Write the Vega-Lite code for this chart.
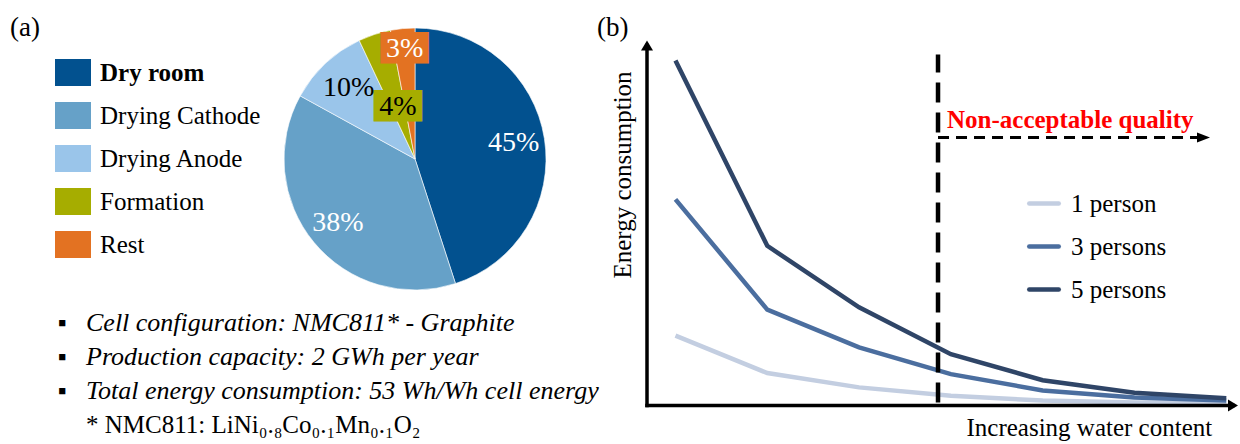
{
  "$schema": "https://vega.github.io/schema/vega-lite/v6.json",
  "background": "white",
  "padding": {"left": 10, "top": 13, "right": 0, "bottom": 0},
  "bounds": "flush",
  "spacing": 101,
  "config": {"view": {"stroke": null}, "font": "Liberation Serif"},
  "resolve": {"scale": {"color": "independent"}, "legend": {"color": "independent"}},
  "hconcat": [
    {
      "width": 128,
      "height": 418,
      "title": {"text": "(a)", "anchor": "start", "frame": "group", "fontSize": 27, "fontWeight": "normal", "font": "Liberation Serif", "color": "black", "dx": -45, "dy": 34.5, "offset": 0, "baseline": "alphabetic"},
      "data": {"values": [
        {"line": 1, "kind": "bullet", "text": "Cell configuration: NMC811* - Graphite"},
        {"line": 2, "kind": "bullet", "text": "Production capacity: 2 GWh per year"},
        {"line": 3, "kind": "bullet", "text": "Total energy consumption: 53 Wh/Wh cell energy"},
        {"line": 4, "kind": "note", "text": "* NMC811: LiNi₀.₈Co₀.₁Mn₀.₁O₂"}
      ]},
      "encoding": {"y": {"field": "line", "type": "ordinal", "scale": {"type": "point", "range": [302.5, 404.5], "padding": 0}, "axis": null}},
      "layer": [
        {"transform": [{"filter": "datum.kind === 'bullet'"}], "mark": {"type": "text", "text": "▪", "align": "left", "baseline": "alphabetic", "dx": -61, "fontSize": 25, "fill": "black"}},
        {"transform": [{"filter": "datum.kind === 'bullet'"}], "mark": {"type": "text", "align": "left", "baseline": "alphabetic", "dx": -33, "fontSize": 26, "fontStyle": "italic", "fill": "black"}, "encoding": {"text": {"field": "text"}}},
        {"transform": [{"filter": "datum.kind === 'note'"}], "mark": {"type": "text", "align": "left", "baseline": "alphabetic", "dx": -33, "fontSize": 25, "fill": "black"}, "encoding": {"text": {"field": "text"}}}
      ]
    },
    {
      "width": 262,
      "height": 262,
      "data": {"values": [
        {"category": "Dry room", "share": 45, "label": "45%", "k": 1},
        {"category": "Drying Cathode", "share": 38, "label": "38%", "k": 2},
        {"category": "Drying Anode", "share": 10, "label": "10%", "k": 3},
        {"category": "Formation", "share": 4, "label": "4%", "k": 4},
        {"category": "Rest", "share": 3, "label": "3%", "k": 5}
      ]},
      "encoding": {
        "theta": {"field": "share", "type": "quantitative", "stack": true},
        "order": {"field": "k", "type": "quantitative"},
        "detail": {"field": "category"}
      },
      "layer": [
        {
          "mark": {"type": "arc", "stroke": "white", "strokeWidth": 0.6},
          "encoding": {
            "color": {
              "field": "category", "type": "nominal",
              "scale": {"domain": ["Dry room", "Drying Cathode", "Drying Anode", "Formation", "Rest"], "range": ["#02518F", "#66A1C8", "#9AC5EA", "#A6AD00", "#E37222"]},
              "legend": {
                "orient": "none", "legendX": -229, "legendY": 26.5, "title": null,
                "symbolType": "M-1,-0.75H1V0.75H-1Z", "symbolSize": 1296, "symbolStrokeWidth": 0, "symbolOpacity": 1,
                "labelFontSize": 25, "labelFont": "Liberation Serif", "labelColor": "black", "labelOffset": 9, "labelLimit": 400,
                "labelFontWeight": {"expr": "datum.value === 'Dry room' ? 'bold' : 'normal'"},
                "rowPadding": 11, "padding": 0
              }
            }
          }
        },
        {"mark": {"type": "text", "radius": 55, "font": "DejaVu Sans Mono", "fontSize": 26.5, "fill": "#A6AD00", "baseline": "middle", "align": "center"},
         "encoding": {"text": {"condition": {"test": "datum.category === 'Formation'", "value": "███"}, "value": ""}}},
        {"mark": {"type": "text", "radius": 110, "font": "DejaVu Sans Mono", "fontSize": 26.5, "fill": "#E37222", "baseline": "middle", "align": "center"},
         "encoding": {"text": {"condition": {"test": "datum.category === 'Rest'", "value": "███"}, "value": ""}}},
        {"mark": {"type": "text", "radius": 100, "fontSize": 28, "fill": "white", "baseline": "middle", "align": "center"},
         "encoding": {"text": {"condition": {"test": "datum.share >= 38", "field": "label"}, "value": ""}}},
        {"mark": {"type": "text", "radius": 97, "fontSize": 28, "fill": "black", "baseline": "middle", "align": "center"},
         "encoding": {"text": {"condition": {"test": "datum.category === 'Drying Anode'", "field": "label"}, "value": ""}}},
        {"mark": {"type": "text", "radius": 55, "fontSize": 28, "fill": "black", "baseline": "middle", "align": "center"},
         "encoding": {"text": {"condition": {"test": "datum.category === 'Formation'", "field": "label"}, "value": ""}}},
        {"mark": {"type": "text", "radius": 110, "fontSize": 28, "fill": "white", "baseline": "middle", "align": "center"},
         "encoding": {"text": {"condition": {"test": "datum.category === 'Rest'", "field": "label"}, "value": ""}}}
      ]
    },
    {
      "width": 588,
      "height": 377.5,
      "title": {"text": "(b)", "anchor": "start", "frame": "group", "fontSize": 27, "fontWeight": "normal", "font": "Liberation Serif", "color": "black", "dx": -50, "dy": 34.5, "offset": 0, "baseline": "alphabetic"},
      "layer": [
        {
          "data": {"values": [
            {"persons": "1 person", "w": 1, "energy": 18.5},
            {"persons": "1 person", "w": 2, "energy": 8.6},
            {"persons": "1 person", "w": 3, "energy": 4.8},
            {"persons": "1 person", "w": 4, "energy": 2.6},
            {"persons": "1 person", "w": 5, "energy": 1.3},
            {"persons": "1 person", "w": 6, "energy": 0.8},
            {"persons": "1 person", "w": 7, "energy": 0.6},
            {"persons": "3 persons", "w": 1, "energy": 54.6},
            {"persons": "3 persons", "w": 2, "energy": 25.4},
            {"persons": "3 persons", "w": 3, "energy": 15.4},
            {"persons": "3 persons", "w": 4, "energy": 8.3},
            {"persons": "3 persons", "w": 5, "energy": 4.0},
            {"persons": "3 persons", "w": 6, "energy": 2.1},
            {"persons": "3 persons", "w": 7, "energy": 1.3},
            {"persons": "5 persons", "w": 1, "energy": 91.4},
            {"persons": "5 persons", "w": 2, "energy": 42.3},
            {"persons": "5 persons", "w": 3, "energy": 26.0},
            {"persons": "5 persons", "w": 4, "energy": 13.6},
            {"persons": "5 persons", "w": 5, "energy": 6.7},
            {"persons": "5 persons", "w": 6, "energy": 3.4},
            {"persons": "5 persons", "w": 7, "energy": 1.9}
          ]},
          "mark": {"type": "line", "strokeWidth": 4.5},
          "encoding": {
            "x": {"field": "w", "type": "quantitative", "scale": {"domain": [0.69, 7.095], "nice": false, "zero": false},
                  "axis": {"title": "Increasing water content", "domain": false, "ticks": false, "labels": false, "grid": false,
                           "titleFontSize": 25, "titleFontWeight": "normal", "titleColor": "black", "titleFont": "Liberation Serif",
                           "titleX": 564.7, "titleY": 30, "titleAlign": "right", "titleBaseline": "alphabetic"}},
            "y": {"field": "energy", "type": "quantitative", "scale": {"domain": [0, 100], "nice": false},
                  "axis": {"title": "Energy consumption", "domain": false, "ticks": false, "labels": false, "grid": false,
                           "titleFontSize": 25, "titleFontWeight": "normal", "titleColor": "black", "titleFont": "Liberation Serif",
                           "titleX": -25, "titleY": 146.5, "titleAlign": "center", "titleBaseline": "middle"}},
            "color": {"field": "persons", "type": "nominal",
                      "scale": {"domain": ["1 person", "3 persons", "5 persons"], "range": ["#C3CEE1", "#4B6E9F", "#2F4567"]},
                      "legend": {"orient": "none", "legendX": 380, "legendY": 158.5, "title": null,
                                 "symbolType": "stroke", "symbolSize": 870, "symbolStrokeWidth": 4.5,
                                 "labelFontSize": 25, "labelFont": "Liberation Serif", "labelColor": "black", "labelOffset": 10,
                                 "rowPadding": 13, "padding": 0,
                                 "encode": {"symbols": {"update": {"strokeCap": {"value": "round"}}}}}}
          }
        },
        {"data": {"values": [{}]}, "mark": {"type": "rule", "strokeWidth": 3.5, "color": "black", "strokeCap": "square"},
         "encoding": {"x": {"datum": 0.69}, "y": {"datum": 0}, "y2": {"datum": 95.36}}},
        {"data": {"values": [{}]}, "mark": {"type": "rule", "strokeWidth": 3.5, "color": "black", "strokeCap": "square"},
         "encoding": {"x": {"datum": 0.69}, "x2": {"datum": 7.073}, "y": {"datum": 0}}},
        {"data": {"values": [{}]}, "mark": {"type": "rule", "strokeWidth": 4.5, "color": "black", "strokeDash": [20, 10]},
         "encoding": {"x": {"datum": 3.86}, "y": {"datum": 0.8}, "y2": {"datum": 93}}},
        {"data": {"values": [{}]}, "mark": {"type": "rule", "strokeWidth": 3, "color": "black", "strokeDash": [11, 7]},
         "encoding": {"x": {"datum": 3.86}, "x2": {"datum": 6.70}, "y": {"datum": 71}}},
        {"data": {"values": [{}]}, "mark": {"type": "point", "shape": "M0,-1L1.2,1L-1.2,1Z", "size": 100, "filled": true, "color": "black", "opacity": 1},
         "encoding": {"x": {"datum": 0.69}, "y": {"datum": 95.36}}},
        {"data": {"values": [{}]}, "mark": {"type": "point", "shape": "M1,0L-1,1.2L-1,-1.2Z", "size": 100, "filled": true, "color": "black", "opacity": 1},
         "encoding": {"x": {"datum": 7.073}, "y": {"datum": 0}}},
        {"data": {"values": [{}]}, "mark": {"type": "point", "shape": "M1,0L-1,0.77L-1,-0.77Z", "size": 169, "filled": true, "color": "black", "opacity": 1},
         "encoding": {"x": {"datum": 6.752}, "y": {"datum": 71}}},
        {"data": {"values": [{"note": "Non-acceptable quality"}]}, "mark": {"type": "text", "align": "left", "baseline": "alphabetic", "fontSize": 25, "fontWeight": "bold", "fill": "#FF0000"},
         "encoding": {"x": {"datum": 3.958}, "y": {"datum": 73.6}, "text": {"field": "note"}}}
      ]
    }
  ]
}
